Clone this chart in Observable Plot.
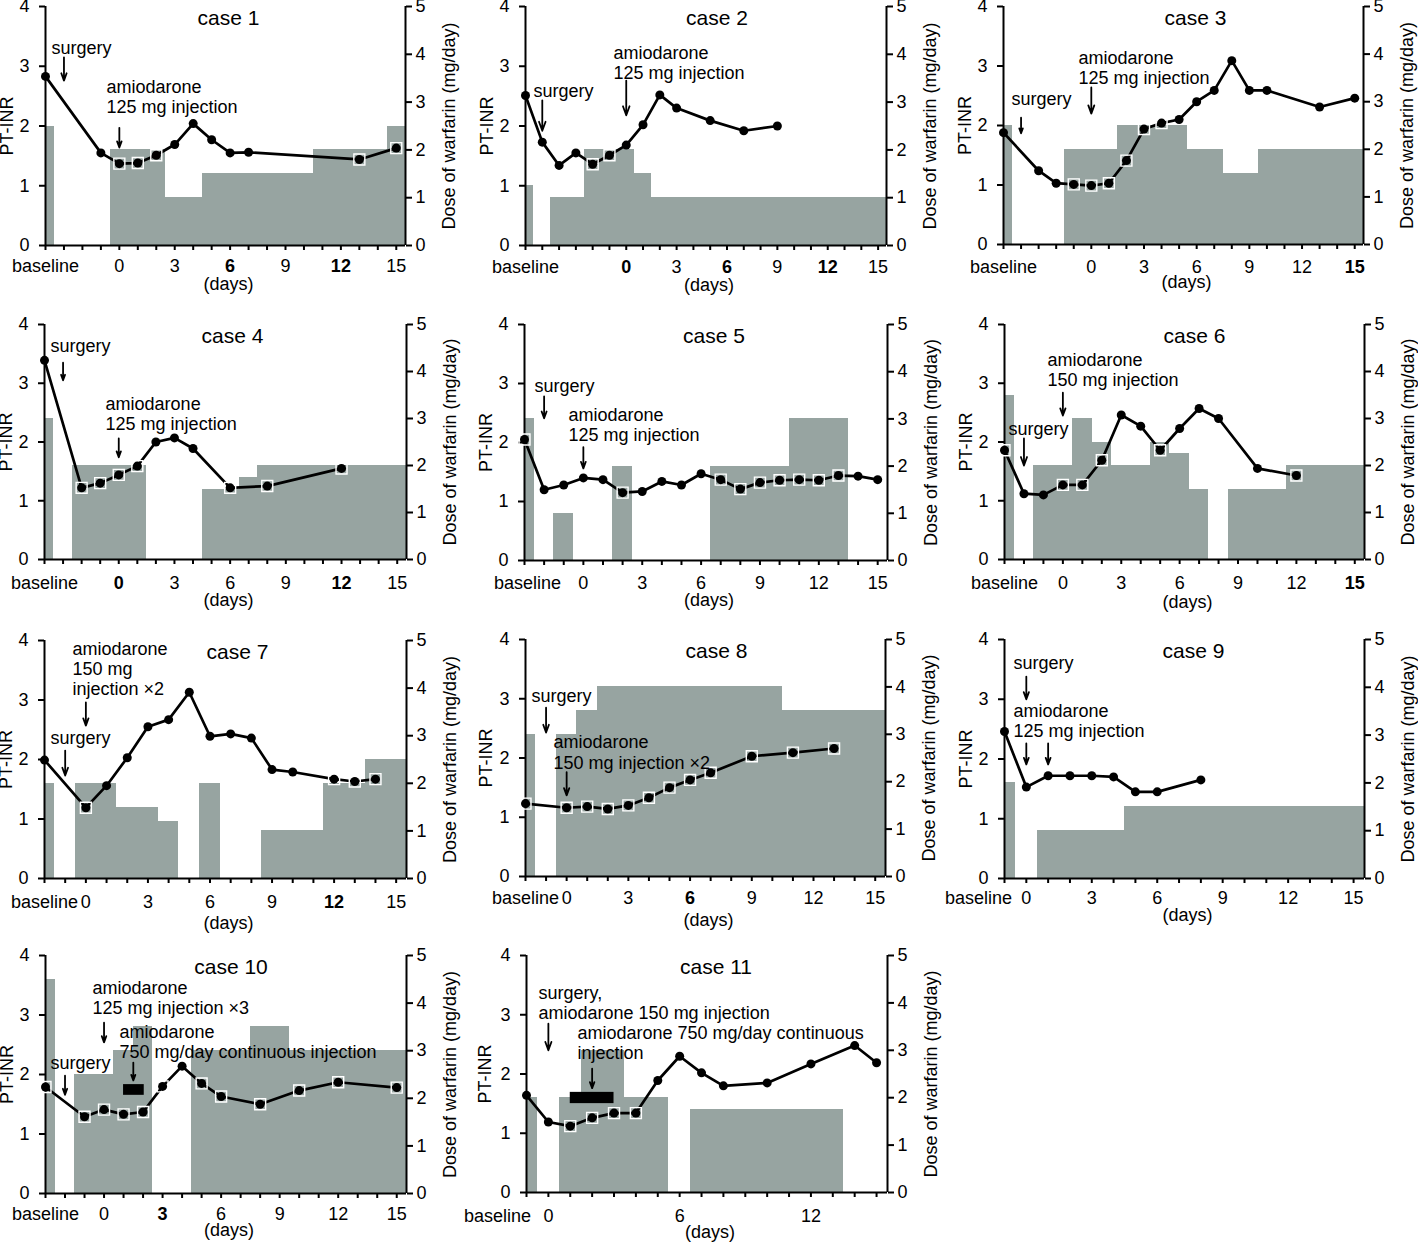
<!DOCTYPE html>
<html><head><meta charset="utf-8">
<script src="https://cdn.jsdelivr.net/npm/d3@7"></script>
<script src="https://cdn.jsdelivr.net/npm/@observablehq/plot@0.6"></script>
<style>
body{margin:0;background:#fff;}
#root{position:relative;width:1418px;height:1242px;overflow:hidden;background:#fff;}
.panel{position:absolute;}
.panel svg{max-width:none !important;background:transparent !important;overflow:visible !important;}
</style></head><body><div id="root"></div>
<script>
// ---------- data ----------
const titles = ["case 1","case 2","case 3","case 4","case 5","case 6","case 7","case 8","case 9","case 10","case 11"];
const xMax = [19.5,21.5,20.5,19.5,18.5,18.5,17.5,17.5,16.5,18.5,16.5];   // last category slot of each panel
const dayZero = [4,6,5,4,3,3,2,2,1,3,1];                                   // slot of day 0 (slot 0 = baseline)
const dayLabels = [[0,3,6,9,12,15],[0,3,6,9,12,15],[0,3,6,9,12,15],[0,3,6,9,12,15],[0,3,6,9,12,15],[0,3,6,9,12,15],[0,3,6,9,12,15],[0,3,6,9,12,15],[0,3,6,9,12,15],[0,3,6,9,12,15],[0,6,12]];
const boldDays = [[6,12],[0,6,12],[15],[0,12],[],[15],[12],[6],[],[3],[]];
const doseTicks = [0,1,2,3,4,5];
const inrTicks = [0,1,2,3,4];

// PT-INR (slot, value, marker: c = plain, s = with white square)
const inrPos1 = [0,3,4,5,6,7,8,9,10,11,17,19];
const inr1 = [2.83,1.55,1.37,1.38,1.51,1.69,2.04,1.77,1.55,1.56,1.44,1.63];
const mark1 = "ccssscccccss";
const inrPos2 = [0,1,2,3,4,5,6,7,8,9,11,13,15];
const inr2 = [2.51,1.73,1.34,1.55,1.36,1.51,1.68,2.02,2.52,2.30,2.09,1.92,2.0];
const mark2 = "ccccssccccccc";
const inrPos3 = [0,2,3,4,5,6,7,8,9,10,11,12,13,14,15,18,20];
const inr3 = [1.88,1.24,1.03,1.01,0.99,1.03,1.41,1.94,2.04,2.10,2.40,2.59,3.09,2.59,2.59,2.31,2.46];
const mark3 = "cccssssssccccccccc";
const inrPos4 = [0,2,3,4,5,6,7,8,10,12,16];
const inr4 = [3.39,1.22,1.30,1.44,1.59,2.0,2.07,1.89,1.22,1.25,1.55];
const mark4 = "csssscccsss";
const inrPos5 = [0,1,2,3,4,5,6,7,8,9,10,11,12,13,14,15,16,17,18];
const inr5 = [2.05,1.20,1.28,1.40,1.37,1.15,1.17,1.34,1.28,1.47,1.37,1.21,1.32,1.36,1.37,1.36,1.44,1.43,1.37];
const mark5 = "sccccsccccssssssscc";
const inrPos6 = [0,1,2,3,4,5,6,7,8,9,10,11,13,15];
const inr6 = [1.86,1.12,1.10,1.27,1.27,1.69,2.46,2.27,1.86,2.23,2.57,2.40,1.55,1.43];
const mark6 = "sccsssccsccccs";
const inrPos7 = [0,2,3,4,5,6,7,8,9,10,11,12,14,15,16];
const inr7 = [1.99,1.19,1.56,2.03,2.55,2.67,3.13,2.39,2.43,2.36,1.83,1.79,1.67,1.63,1.67];
const mark7 = "csccccccccccsss";
const inrPos8 = [0,2,3,4,5,6,7,8,9,11,13,15];
const inr8 = [1.23,1.16,1.18,1.14,1.20,1.33,1.50,1.63,1.75,2.03,2.09,2.16];
const mark8 = "ssssssssssss";
const inrPos9 = [0,1,2,3,4,5,6,7,9];
const inr9 = [2.46,1.53,1.72,1.72,1.72,1.70,1.45,1.45,1.65];
const mark9 = "ccccccccc";
const inrPos10 = [0,2,3,4,5,6,7,8,9,11,13,15,18];
const inr10 = [1.79,1.29,1.41,1.33,1.37,1.80,2.14,1.85,1.63,1.50,1.73,1.87,1.78];
const mark10 = "sssssscssssss";
const inrPos11 = [0,1,2,3,4,5,6,7,8,9,11,13,15,16];
const inr11 = [1.64,1.19,1.12,1.26,1.34,1.34,1.89,2.30,2.02,1.80,1.85,2.17,2.48,2.19];
const mark11 = "ccsssscccccccc";

// warfarin dose (mg/day) for each slot, null = none
const dose1 = [2.5,null,null,null,2,2,2,1,1,1.5,1.5,1.5,1.5,1.5,1.5,2,2,2,2,2.5];
const dose2 = [1.25,null,1,1,2,2,2,1.5,1,1,1,1,1,1,1,1,1,1,1,1,1,1];
const dose3 = [2.5,null,null,null,2,2,2,2.5,2.5,2.5,2.5,2,2,1.5,1.5,2,2,2,2,2,2];
const dose4 = [3,null,2,2,2,2,null,null,null,1.5,1.5,1.75,2,2,2,2,2,2,2,2];
const dose5 = [3,null,1,null,null,2,null,null,null,null,2,2,2,2,3,3,3,null,null];
const dose6 = [3.5,null,2,2,3,2.5,2,2,2.5,2.25,1.5,null,1.5,1.5,1.5,2,2,2,2];
const dose7 = [2,null,2,2,1.5,1.5,1.2,null,2,null,null,1,1,1,2,2,2.5,2.5];
const dose8 = [3,null,3,3.5,4,4,4,4,4,4,4,4,4,3.5,3.5,3.5,3.5,3.5];
const dose9 = [2,null,1,1,1,1,1.5,1.5,1.5,1.5,1.5,1.5,1.5,1.5,1.5,1.5,1.5];
const dose10 = [4.5,null,2.5,2.5,3,3.5,null,null,3,3,3,3.5,3.5,3,3,3,3,3,3];
const dose11 = [2,null,2,3,3,2,2,null,1.75,1.75,1.75,1.75,1.75,1.75,1.75,null,null];

// annotations (slot, PT-INR)
const amio125 = "amiodarone\n125 mg injection";
const notes1 = [{p:0.33,y:3.31,t:"surgery"},{p:3.3,y:2.49,t:amio125}];
const notes2 = [{p:0.48,y:2.59,t:"surgery"},{p:5.24,y:3.06,t:amio125}];
const notes3 = [{p:0.46,y:2.45,t:"surgery"},{p:4.27,y:2.97,t:amio125}];
const notes4 = [{p:0.32,y:3.64,t:"surgery"},{p:3.29,y:2.49,t:amio125}];
const notes5 = [{p:0.51,y:2.97,t:"surgery"},{p:2.24,y:2.31,t:amio125}];
const notes6 = [{p:2.21,y:3.23,t:"amiodarone\n150 mg injection"},{p:0.2,y:2.23,t:"surgery"}];
const notes7 = [{p:1.35,y:3.53,t:"amiodarone\n150 mg\ninjection ×2"},{p:0.29,y:2.37,t:"surgery"}];
const notes8 = [{p:0.29,y:3.05,t:"surgery"},{p:1.36,y:2.10,t:"amiodarone\n150 mg injection ×2"}];
const notes9 = [{p:0.41,y:3.62,t:"surgery"},{p:0.41,y:2.64,t:amio125}];
const notes10 = [{p:0.26,y:2.20,t:"surgery"},{p:2.41,y:3.29,t:"amiodarone\n125 mg injection ×3"},{p:3.79,y:2.55,t:"amiodarone\n750 mg/day continuous injection"}];
const notes11 = [{p:0.55,y:3.21,t:"surgery,\namiodarone 150 mg injection"},{p:2.33,y:2.53,t:"amiodarone 750 mg/day continuous\ninjection"}];
const arrows1 = [{p:1,y1:3.15,y2:2.76},{p:4,y1:1.97,y2:1.64}];
const arrows2 = [{p:1,y1:2.43,y2:1.92},{p:6,y1:2.76,y2:2.18}];
const arrows3 = [{p:1,y1:2.13,y2:1.87},{p:5,y1:2.64,y2:2.20}];
const arrows4 = [{p:1,y1:3.35,y2:3.05},{p:4,y1:2.06,y2:1.74}];
const arrows5 = [{p:1,y1:2.78,y2:2.41},{p:3,y1:1.92,y2:1.56}];
const arrows6 = [{p:3,y1:2.84,y2:2.45},{p:1,y1:2.06,y2:1.6}];
const arrows7 = [{p:2,y1:2.96,y2:2.57},{p:1,y1:2.15,y2:1.73}];
const arrows8 = [{p:1,y1:2.85,y2:2.43},{p:2,y1:1.76,y2:1.37}];
const arrows9 = [{p:1,y1:3.38,y2:3.0},{p:1,y1:2.26,y2:1.91},{p:2,y1:2.26,y2:1.91}];
const arrows10 = [{p:1,y1:1.98,y2:1.66},{p:3,y1:2.87,y2:2.54},{p:4.5,y1:2.20,y2:1.90}];
const arrows11 = [{p:1,y1:2.85,y2:2.40},{p:3,y1:2.09,y2:1.76}];
// continuous injection bars
const infusion10 = [{p1:4,p2:5.06,y1:1.65,y2:1.83}];
const infusion11 = [{p1:2,p2:4,y1:1.50,y2:1.69}];

// ---------- layout (panel frame: left, top, width, height, tickDy, daysDy, baselineDx, yLabelDx, titleDx) ----------
const layout = [
  [45,6,360,239,21,39,0,-38,3],[525,6,361,239,22,40,0,-38,11],[1003,6,360,238,23,38,0,-38,12],
  [44,324,362,235,24,41,0,-38,7],[524,324,363,236,23,40,3,-38,8],[1004,324,360,235,24,43,0,-38,10],
  [44,640,362,238,24,45,0,-38,12],[525,639,360,237,22,44,0,-39,11],[1004,639,360,239,20,37,-26,-38,9],
  [45,955,361,238,21,37,0,-38,5],[526,955,361,237,24,40,-29,-41,9]
];

const inrPos = [inrPos1,inrPos2,inrPos3,inrPos4,inrPos5,inrPos6,inrPos7,inrPos8,inrPos9,inrPos10,inrPos11];
const inrVal = [inr1,inr2,inr3,inr4,inr5,inr6,inr7,inr8,inr9,inr10,inr11];
const marks = [mark1,mark2,mark3,mark4,mark5,mark6,mark7,mark8,mark9,mark10,mark11];
const doses = [dose1,dose2,dose3,dose4,dose5,dose6,dose7,dose8,dose9,dose10,dose11];
const notes = [notes1,notes2,notes3,notes4,notes5,notes6,notes7,notes8,notes9,notes10,notes11];
const arrows = [arrows1,arrows2,arrows3,arrows4,arrows5,arrows6,arrows7,arrows8,arrows9,arrows10,arrows11];
const infusions = [[],[],[],[],[],[],[],[],[],infusion10,infusion11];

const FONT = "'Liberation Sans', Arial, Helvetica, sans-serif";
const GRAY = "#97a4a1";
const K = 4/5; // dose (0-5 mg/day) onto PT-INR frame (0-4)
const mL = 50, mR = 70, mT = 10, mB = 52;
const root = document.getElementById("root");

titles.forEach((title, i) => {
  const [left, top, w, h, tickDy, daysDy, baseDx, ylabDx, titleDx] = layout[i];
  const xmax = xMax[i];
  const pts = inrPos[i].map((p, j) => ({p, v: inrVal[i][j], m: marks[i][j]}));
  const bars = doses[i].map((d, p) => ({p, d})).filter(b => b.d != null);
  const ints = d3.range(0, Math.floor(xmax) + 1);
  const labs = dayLabels[i].map(d => ({p: d + dayZero[i], t: String(d), b: boldDays[i].includes(d)}));
  const plot = Plot.plot({
    width: w + mL + mR, height: h + mT + mB,
    marginLeft: mL, marginRight: mR, marginTop: mT, marginBottom: mB,
    style: {fontFamily: FONT, fontSize: "18px", color: "#000", background: "transparent", overflow: "visible"},
    x: {domain: [0, xmax]},
    y: {domain: [0, 4]},
    marks: [
      Plot.rect(bars, {x1: b => Math.max(0, b.p - 0.5), x2: b => Math.min(xmax, b.p + 0.5), y1: 0, y2: b => b.d * K, fill: GRAY, shapeRendering: "crispEdges"}),
      Plot.axisX({ticks: ints, tickFormat: () => "", tickSize: 5, strokeWidth: 2, label: null}),
      Plot.axisY({anchor: "left", ticks: inrTicks, tickFormat: t => String(t), tickSize: 6, tickPadding: 10, strokeWidth: 2, label: null}),
      Plot.axisY({anchor: "right", ticks: doseTicks.map(d => d * K), tickFormat: t => String(Math.round(t / K)), tickSize: 6, tickPadding: 4, strokeWidth: 2, label: null}),
      Plot.ruleX([0, xmax], {stroke: "#000", strokeWidth: 2}),
      Plot.ruleY([0], {stroke: "#000", strokeWidth: 2}),
      Plot.line(pts, {x: "p", y: "v", stroke: "#000", strokeWidth: 2.7}),
      Plot.dot(pts.filter(d => d.m === "s"), {x: "p", y: "v", symbol: "square", r: 6.2, fill: "none", stroke: "#fff", strokeWidth: 1.4}),
      Plot.dot(pts, {x: "p", y: "v", r: 4.5, fill: "#000"}),
      Plot.rect(infusions[i], {x1: "p1", x2: "p2", y1: "y1", y2: "y2", fill: "#000"}),
      Plot.arrow(arrows[i], {x1: "p", x2: "p", y1: "y1", y2: "y2", stroke: "#000", strokeWidth: 1.8, headLength: 8, headAngle: 40}),
      Plot.text(notes[i], {x: "p", y: "y", text: "t", textAnchor: "start", lineAnchor: "middle", lineHeight: 1.12, fontSize: 18}),
      Plot.text([{p: 0, t: "baseline"}], {x: "p", text: "t", frameAnchor: "bottom", lineAnchor: "middle", dy: tickDy, dx: baseDx}),
      Plot.text(labs.filter(l => !l.b), {x: "p", text: "t", frameAnchor: "bottom", lineAnchor: "middle", dy: tickDy}),
      Plot.text(labs.filter(l => l.b), {x: "p", text: "t", frameAnchor: "bottom", lineAnchor: "middle", dy: tickDy, fontWeight: "bold"}),
      Plot.text(["(days)"], {frameAnchor: "bottom", lineAnchor: "middle", dx: 3, dy: daysDy}),
      Plot.text([title], {frameAnchor: "top", lineAnchor: "middle", dx: titleDx, dy: 12, fontSize: 21}),
      Plot.text(["PT-INR"], {frameAnchor: "left", textAnchor: "middle", lineAnchor: "middle", dx: ylabDx, rotate: -90}),
      Plot.text(["Dose of warfarin (mg/day)"], {frameAnchor: "right", textAnchor: "middle", lineAnchor: "middle", dx: 44, rotate: -90})
    ]
  });
  const div = document.createElement("div");
  div.className = "panel";
  div.style.left = (left - mL) + "px";
  div.style.top = (top - mT) + "px";
  div.style.width = (w + mL + mR) + "px";
  div.appendChild(plot);
  root.appendChild(div);
});
</script>
</body></html>
